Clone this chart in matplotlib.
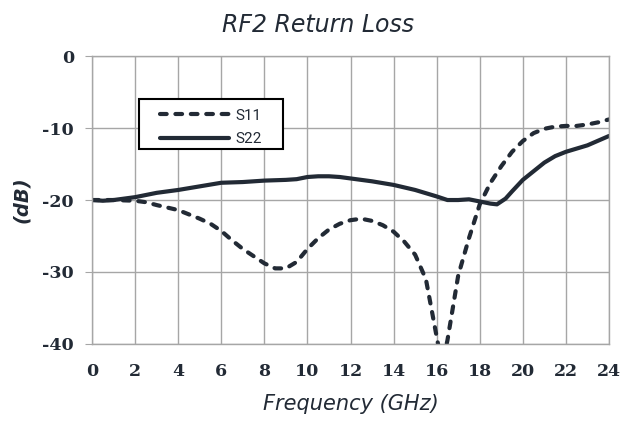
import matplotlib
matplotlib.use("Agg")
import matplotlib.pyplot as plt
from matplotlib.patches import Rectangle

# S11 / S22
s11_freq = [0, 1, 2, 2.5, 3, 4, 5, 5.5, 6, 6.5, 7, 7.5, 8, 8.5, 9, 9.5, 10, 10.5,
            11, 11.5, 12, 12.5, 13, 13.5, 14, 14.5, 15, 15.5, 16, 16.25, 16.5,
            17, 17.5, 18, 18.5, 19, 19.5, 20, 20.5, 21, 21.5, 22, 22.5, 23, 23.5, 24]
s11_db = [-20, -20.0, -20.1, -20.3, -20.7, -21.4, -22.6, -23.3, -24.3, -25.6, -26.8,
          -27.8, -28.8, -29.5, -29.5, -28.6, -26.8, -25.3, -24.1, -23.3, -22.8, -22.6,
          -22.9, -23.5, -24.4, -25.8, -27.6, -31.0, -39.0, -43.0, -39.5,
          -30.5, -25.3, -20.6, -17.6, -15.3, -13.3, -11.8, -10.7, -10.1, -9.8, -9.7,
          -9.7, -9.5, -9.2, -8.8]

s22_freq = [0, 0.5, 1, 2, 3, 4, 5, 6, 7, 8, 9, 9.5, 10, 10.5, 11, 11.5, 12, 13, 14,
            15, 16, 16.5, 17, 17.5, 18, 18.5, 18.8, 19.2, 19.5, 20, 20.5, 21, 21.5,
            22, 23, 24]
s22_db = [-20, -20.1, -20.0, -19.6, -19.0, -18.6, -18.1, -17.6, -17.5, -17.3, -17.2,
          -17.1, -16.8, -16.7, -16.7, -16.8, -17.0, -17.4, -17.9, -18.6, -19.5, -20.0,
          -20.0, -19.9, -20.2, -20.5, -20.6, -19.8, -18.8, -17.2, -16.0, -14.8, -13.9,
          -13.3, -12.4, -11.1]

x_ticks = list(range(0, 25, 2))
y_ticks = [0, -10, -20, -30, -40]

ink = "#222a35"
grid_col = "#a6a6a6"

fig = plt.figure(figsize=(6.35, 4.22), dpi=100)
ax = fig.add_axes([0.145, 0.185, 0.814, 0.682])

ax.plot(s11_freq, s11_db, color=ink, lw=3, ls=(0, (1.6, 2.1)),
        dash_capstyle="round", label="S11")
ax.plot(s22_freq, s22_db, color=ink, lw=3, solid_capstyle="round", label="S22")

ax.set_xlim(0, 24)
ax.set_ylim(-40, 0)
ax.set_xticks(x_ticks)
ax.set_yticks(y_ticks)
ax.grid(True, color=grid_col, lw=1)
for s in ax.spines.values():
    s.set_color(grid_col)
    s.set_linewidth(1)

tick_font = {"family": "DejaVu Serif", "weight": "bold", "size": 12.5}
ax.set_xticklabels([str(t) for t in x_ticks], fontdict=tick_font, color=ink)
ax.set_yticklabels([str(t) for t in y_ticks], fontdict=tick_font, color=ink)
ax.tick_params(axis="x", length=0, pad=14)
ax.tick_params(axis="y", length=5, color=grid_col, pad=8)

ax.set_xlabel("Frequency (GHz)", fontsize=15, style="italic", color=ink, labelpad=10)
ax.set_ylabel("(dB)", fontsize=14, style="italic", weight="bold", color=ink, labelpad=8)
fig.text(0.5, 0.94, "RF2 Return Loss", ha="center", va="center",
         fontsize=17, style="italic", color=ink)

# legend box drawn separately: the original has wide side padding
ax.add_patch(Rectangle((0.09, 0.677), 0.28, 0.174, transform=ax.transAxes,
                       facecolor="white", edgecolor="black", lw=1.5, zorder=4))
leg = ax.legend(loc="upper left", bbox_to_anchor=(0.131, 0.818), borderaxespad=0,
                prop={"family": "Roboto", "size": 11}, frameon=False,
                handlelength=4.5, handletextpad=0.45, borderpad=0,
                labelspacing=0.65)
leg.set_zorder(5)
for t in leg.get_texts():
    t.set_color(ink)

fig.savefig("out.png", dpi=100)
